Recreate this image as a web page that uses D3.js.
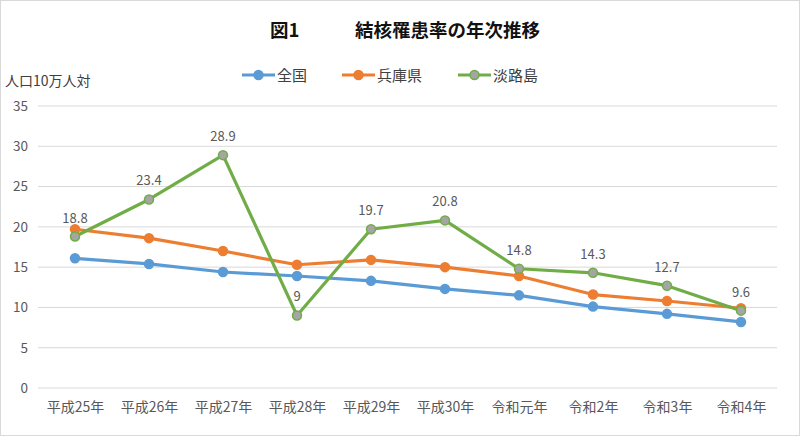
<!DOCTYPE html>
<html><head><meta charset="utf-8">
<script src="https://cdn.jsdelivr.net/npm/d3@7"></script>
<style>
html,body{margin:0;padding:0;background:#fff;}
svg{display:block;font-family:"Noto Sans CJK JP","Noto Sans",sans-serif;}
</style></head>
<body>
<svg id="chart" width="800" height="436"></svg>
<script>
const categories = ["平成25年","平成26年","平成27年","平成28年","平成29年","平成30年","令和元年","令和2年","令和3年","令和4年"];
const zenkoku = [16.1,15.4,14.4,13.9,13.3,12.3,11.5,10.1,9.2,8.2];
const hyogo = [19.7,18.6,17.0,15.3,15.9,15.0,13.9,11.6,10.8,9.9];
const awaji = [18.8,23.4,28.9,9,19.7,20.8,14.8,14.3,12.7,9.6];
const seriesNames = ["全国","兵庫県","淡路島"];
const yTicks = [0,5,10,15,20,25,30,35];

const colors = {"全国":"#5B9BD5","兵庫県":"#ED7D31","淡路島":"#70AD47"};
const markerFill = {"全国":"#5B9BD5","兵庫県":"#ED7D31","淡路島":"#A5A5A5"};
const series = [
  {name:seriesNames[0], values:zenkoku, labels:false},
  {name:seriesNames[1], values:hyogo, labels:false},
  {name:seriesNames[2], values:awaji, labels:true}
];

const svg = d3.select("#chart");
svg.append("rect").attr("x",0.5).attr("y",0.5).attr("width",799).attr("height",435)
  .attr("fill","#fff").attr("stroke","#d9d9d9");

const x = d3.scalePoint().domain(categories).range([75,741]);
const y = d3.scaleLinear().domain([0,35]).range([388,106]);

// gridlines
svg.append("g").selectAll("line").data(yTicks).join("line")
  .attr("x1",38).attr("x2",777)
  .attr("y1",d=>y(d)).attr("y2",d=>y(d))
  .attr("stroke","#d9d9d9").attr("stroke-width",1);

// y axis labels
const yAxis = svg.append("g").attr("transform","translate(28,0)")
  .call(d3.axisLeft(y).tickValues(yTicks).tickSize(0).tickPadding(0));
yAxis.select(".domain").remove();
yAxis.selectAll("text").attr("font-size",13.5).attr("fill","#595959")
  .attr("font-family","'Noto Sans CJK JP',sans-serif");

// x axis labels
const xAxis = svg.append("g").attr("transform","translate(0,400)")
  .call(d3.axisBottom(x).tickSize(0).tickPadding(2));
xAxis.select(".domain").remove();
xAxis.selectAll("text").attr("font-size",14).attr("fill","#595959")
  .attr("font-family","'Noto Sans CJK JP',sans-serif");

const line = d3.line().x((d,i)=>x(categories[i])).y(d=>y(d));

series.forEach(s=>{
  const g = svg.append("g");
  g.append("path").datum(s.values).attr("d",line)
    .attr("fill","none").attr("stroke",colors[s.name]).attr("stroke-width",3.2)
    .attr("stroke-linejoin","round");
  g.selectAll("circle").data(s.values).join("circle")
    .attr("cx",(d,i)=>x(categories[i])).attr("cy",d=>y(d)).attr("r",4.5)
    .attr("fill",markerFill[s.name]).attr("stroke",colors[s.name]).attr("stroke-width",1.5);
  if(s.labels){
    g.selectAll("text").data(s.values).join("text")
      .attr("x",(d,i)=>x(categories[i])).attr("y",d=>y(d)-14)
      .attr("text-anchor","middle").attr("font-size",13).attr("fill","#595959")
      .text(d=>d);
  }
});

// title
svg.append("text").attr("x",270).attr("y",37)
  .attr("font-size",18.5).attr("font-weight","bold").attr("fill","#111")
  .text("図1");
svg.append("text").attr("x",355).attr("y",37)
  .attr("font-size",18.5).attr("font-weight","bold").attr("fill","#111")
  .text("結核罹患率の年次推移");

// y-axis unit label
svg.append("text").attr("x",5).attr("y",86).attr("font-size",14).attr("fill","#404040")
  .text("人口10万人対");

// legend
const legendX = [242,342,458];
const lg = svg.append("g");
series.forEach((s,i)=>{
  const gx = legendX[i];
  lg.append("line").attr("x1",gx).attr("x2",gx+33).attr("y1",75).attr("y2",75)
    .attr("stroke",colors[s.name]).attr("stroke-width",3.2);
  lg.append("circle").attr("cx",gx+16.5).attr("cy",75).attr("r",4.5)
    .attr("fill",markerFill[s.name]).attr("stroke",colors[s.name]).attr("stroke-width",1.5);
  lg.append("text").attr("x",gx+35).attr("y",80.5).attr("font-size",15).attr("fill","#404040")
    .text(s.name);
});
</script>
</body></html>
